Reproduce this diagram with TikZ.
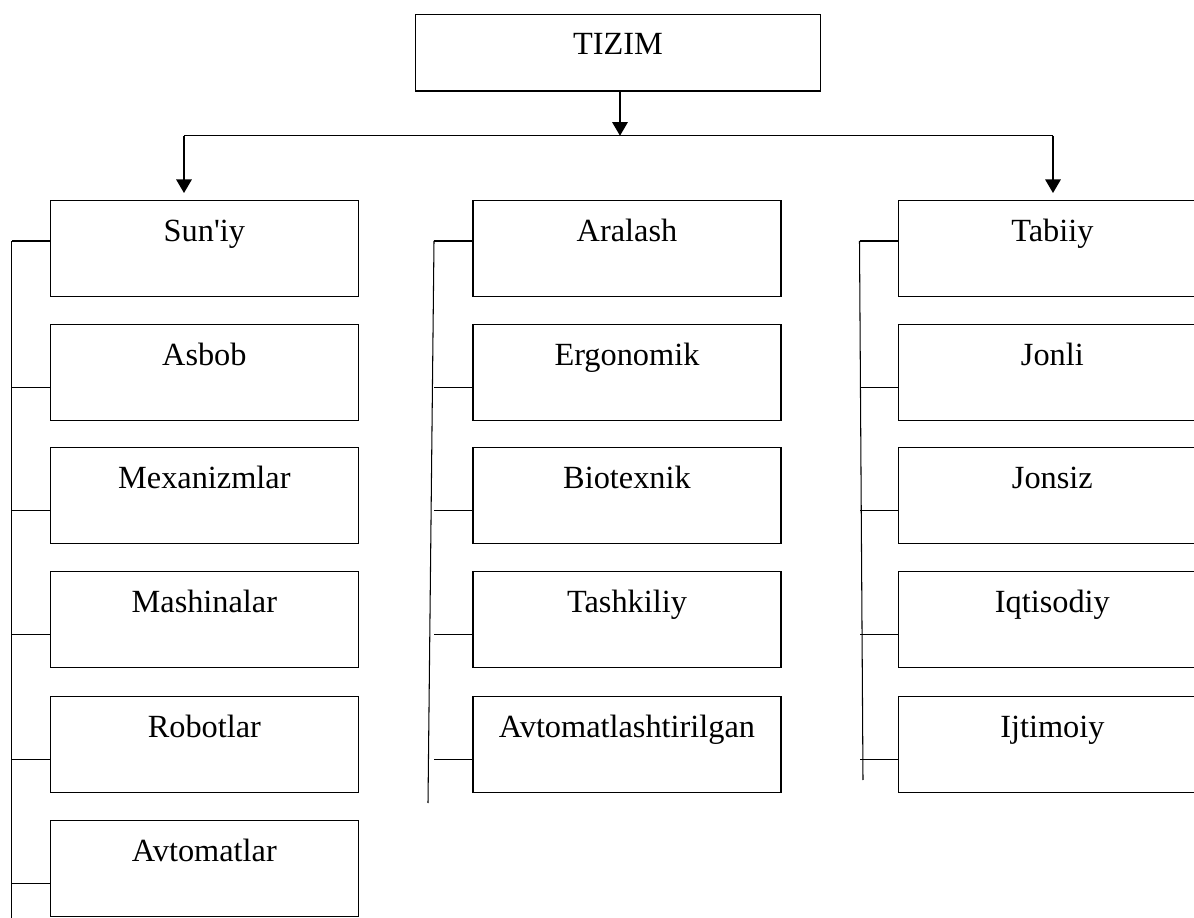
\documentclass[tikz,border=0pt]{standalone}
\usepackage{fontspec}
\setmainfont{Liberation Serif}
\usepackage{tikz}
\usetikzlibrary{arrows.meta}

\tikzset{
  box/.style={draw, line width=0.8pt, anchor=north west, minimum width=6.16cm, inner sep=0pt,
    text height=0.82cm, text depth=1.10cm, font=\fontsize{18.4}{22}\selectfont},
  rootbox/.style={box, minimum width=8.11cm, text height=0.8cm, text depth=0.73cm},
  arr/.style={line width=0.7pt, -{Triangle[length=0.27cm,width=0.31cm]}},
  tick/.style={line width=0.6pt}
}

\begin{document}
\begin{tikzpicture}[x=0.02cm,y=-0.02cm]
\useasboundingbox (0,0) rectangle (1194,918);
% top
\node[rootbox] (tizim) at (414.5,14) {TIZIM};
\coordinate (bl) at (184,135.7);
\coordinate (br) at (1053,135.7);
% left column
\node[box] (s1) at (49.7,200) {Sun\textquotesingle iy};
\node[box] (s2) at (49.7,324) {Asbob};
\node[box] (s3) at (49.7,447) {Mexanizmlar};
\node[box] (s4) at (49.7,571) {Mashinalar};
\node[box] (s5) at (49.7,696) {Robotlar};
\node[box] (s6) at (49.7,820) {Avtomatlar};
% middle column
\node[box] (a1) at (472.3,200) {Aralash};
\node[box] (a2) at (472.3,324) {Ergonomik};
\node[box] (a3) at (472.3,447) {Biotexnik};
\node[box] (a4) at (472.3,571) {Tashkiliy};
\node[box] (a5) at (472.3,696) {Avtomatlashtirilgan};
% right column
\node[box] (t1) at (897.7,200) {Tabiiy};
\node[box] (t2) at (897.7,324) {Jonli};
\node[box] (t3) at (897.7,447) {Jonsiz};
\node[box] (t4) at (897.7,571) {Iqtisodiy};
\node[box] (t5) at (897.7,696) {Ijtimoiy};
% arrows
\draw[arr] (tizim.south -| 620,0) -- (bl -| 620,0);
\draw[tick] (bl) -- (br);
\draw[arr, shorten >=0.14cm] (bl) -- (bl |- s1.north);
\draw[arr, shorten >=0.14cm] (br) -- (br |- t1.north);
% trunks
\coordinate (ltop) at (11.5,241);
\coordinate (lbot) at (11.5,918);
\coordinate (mtop) at (434,241);
\coordinate (mbot) at (428,803);
\coordinate (rtop) at (859.5,241);
\coordinate (rbot) at (863,780);
\draw[tick] (ltop) -- (lbot);
\draw[tick] (mtop) -- (mbot);
\draw[tick] (rtop) -- (rbot);
% ticks
\draw[tick] (s1.west |- ltop) -- (ltop);
\draw[tick] ([yshift=-0.3cm]s2.west) -- ([yshift=-0.3cm]s2.west -| ltop);
\draw[tick] ([yshift=-0.3cm]s3.west) -- ([yshift=-0.3cm]s3.west -| ltop);
\draw[tick] ([yshift=-0.3cm]s4.west) -- ([yshift=-0.3cm]s4.west -| ltop);
\draw[tick] ([yshift=-0.3cm]s5.west) -- ([yshift=-0.3cm]s5.west -| ltop);
\draw[tick] ([yshift=-0.3cm]s6.west) -- ([yshift=-0.3cm]s6.west -| ltop);
\draw[tick] (a1.west |- mtop) -- (mtop);
\draw[tick] ([yshift=-0.3cm]a2.west) -- ([yshift=-0.3cm]a2.west -| mtop);
\draw[tick] ([yshift=-0.3cm]a3.west) -- ([yshift=-0.3cm]a3.west -| mtop);
\draw[tick] ([yshift=-0.3cm]a4.west) -- ([yshift=-0.3cm]a4.west -| mtop);
\draw[tick] ([yshift=-0.3cm]a5.west) -- ([yshift=-0.3cm]a5.west -| mtop);
\draw[tick] (t1.west |- rtop) -- (rtop);
\draw[tick] ([yshift=-0.3cm]t2.west) -- ([yshift=-0.3cm]t2.west -| rtop);
\draw[tick] ([yshift=-0.3cm]t3.west) -- ([yshift=-0.3cm]t3.west -| rtop);
\draw[tick] ([yshift=-0.3cm]t4.west) -- ([yshift=-0.3cm]t4.west -| rtop);
\draw[tick] ([yshift=-0.3cm]t5.west) -- ([yshift=-0.3cm]t5.west -| rtop);
\end{tikzpicture}
\end{document}
